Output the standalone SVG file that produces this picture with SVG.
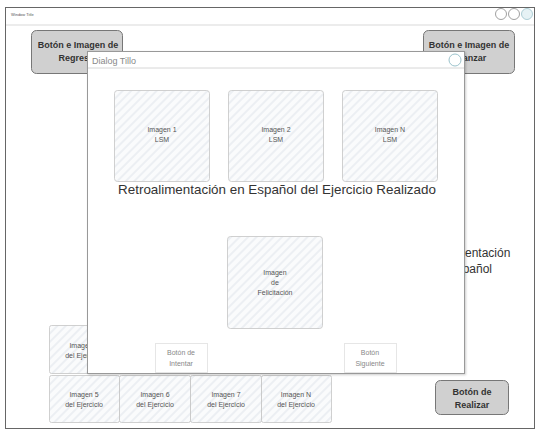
<svg xmlns="http://www.w3.org/2000/svg" width="537" height="431" viewBox="0 0 537 431">
<defs>
<pattern id="hatch" patternUnits="userSpaceOnUse" width="6" height="6" patternTransform="rotate(45)">
<rect width="6" height="6" fill="#fafbfc"/>
<rect width="2" height="6" fill="#eceff3"/>
</pattern>
<filter id="shadow" x="-5%" y="-5%" width="110%" height="110%">
<feDropShadow dx="1" dy="1" stdDeviation="1" flood-color="#000" flood-opacity="0.2"/>
</filter>
</defs>
<style>
.frame{fill:#fff;stroke:#666;stroke-width:1}
.btn{fill:#d0d0d0;stroke:#777;stroke-width:1}
.btnt{font-family:"Liberation Sans",Arial,sans-serif;font-weight:bold;font-size:9px;fill:#333;text-anchor:middle}
.img{fill:url(#hatch);stroke:#c4c4c4;stroke-width:0.8}
.imgt{font-family:"Liberation Sans",Arial,sans-serif;font-size:7px;fill:#555;text-anchor:middle}
.big{font-family:"Liberation Sans",Arial,sans-serif;font-size:13.4px;fill:#333;text-anchor:middle}
.dbtn{fill:#fff;stroke:#e6e6e6;stroke-width:1}
.dbtnt{font-family:"Liberation Sans",Arial,sans-serif;font-size:7px;fill:#888;text-anchor:middle}
</style>
<rect width="537" height="431" fill="#fff"/>
<g id="window">
<rect class="frame" x="5.5" y="7.5" width="529" height="421"/>
<line x1="6" y1="25" x2="534" y2="25" stroke="#e6e6e6" stroke-width="1.5"/>
<text x="11" y="16" font-family="Liberation Sans,Arial,sans-serif" font-size="4px" fill="#555">Window Title</text>
<circle cx="501" cy="14" r="5.5" fill="#fff" stroke="#888" stroke-width="0.8"/>
<circle cx="514" cy="14" r="5.5" fill="#fff" stroke="#888" stroke-width="0.8"/>
<circle cx="527" cy="14" r="5.5" fill="#e6f2f5" stroke="#9cc3cc" stroke-width="0.8"/>
</g>
<g id="btn-regresar">
<rect class="btn" x="31.5" y="30.5" width="91" height="43" rx="5"/>
<text class="btnt" x="78" y="48">Botón e Imagen de</text>
<text class="btnt" x="78" y="61">Regresar</text>
</g>
<g id="btn-avanzar">
<rect class="btn" x="423.5" y="30.5" width="91" height="43" rx="5"/>
<text class="btnt" x="469" y="48">Botón e Imagen de</text>
<text class="btnt" x="469" y="61">Avanzar</text>
</g>
<g id="retro-right">
<text class="big" x="462" y="257" font-size="12px" style="font-size:12px">Retroalimentación</text>
<text class="big" x="462" y="273" style="font-size:12px">en Español</text>
</g>
<g id="img4">
<rect class="img" x="49.5" y="325.5" width="70" height="48" rx="2"/>
<text class="imgt" x="84" y="348">Imagen 4</text>
<text class="imgt" x="84" y="358">del Ejercicio</text>
</g>
<g id="img5">
<rect class="img" x="49.5" y="375.5" width="70" height="47" rx="2"/>
<text class="imgt" x="84" y="397">Imagen 5</text>
<text class="imgt" x="84" y="407">del Ejercicio</text>
</g>
<g id="img6">
<rect class="img" x="119.5" y="375.5" width="71" height="47" rx="2"/>
<text class="imgt" x="155" y="397">Imagen 6</text>
<text class="imgt" x="155" y="407">del Ejercicio</text>
</g>
<g id="img7">
<rect class="img" x="190.5" y="375.5" width="71" height="47" rx="2"/>
<text class="imgt" x="226" y="397">Imagen 7</text>
<text class="imgt" x="226" y="407">del Ejercicio</text>
</g>
<g id="imgN">
<rect class="img" x="261.5" y="375.5" width="70" height="47" rx="2"/>
<text class="imgt" x="296" y="397">Imagen N</text>
<text class="imgt" x="296" y="407">del Ejercicio</text>
</g>
<g id="btn-realizar">
<rect class="btn" x="435.5" y="380.5" width="73" height="34" rx="5"/>
<text class="btnt" x="472" y="395">Botón de</text>
<text class="btnt" x="472" y="408">Realizar</text>
</g>
<g id="dialog">
<rect x="87.5" y="51.5" width="377" height="322" fill="#fff" stroke="#999" stroke-width="1" filter="url(#shadow)"/>
<line x1="88" y1="68" x2="464" y2="68" stroke="#d6d6d6" stroke-width="1"/>
<text x="92" y="64" font-family="Liberation Sans,Arial,sans-serif" font-size="9px" fill="#888">Dialog Tillo</text>
<circle cx="455" cy="60" r="6" fill="#fff" stroke="#9cc3cc" stroke-width="1"/>
</g>
<g id="lsm1">
<rect class="img" x="114.5" y="90.5" width="95" height="91" rx="3"/>
<text class="imgt" x="162" y="132">Imagen 1</text>
<text class="imgt" x="162" y="142">LSM</text>
</g>
<g id="lsm2">
<rect class="img" x="228.5" y="90.5" width="95" height="91" rx="3"/>
<text class="imgt" x="276" y="132">Imagen 2</text>
<text class="imgt" x="276" y="142">LSM</text>
</g>
<g id="lsmN">
<rect class="img" x="342.5" y="90.5" width="95" height="91" rx="3"/>
<text class="imgt" x="390" y="132">Imagen N</text>
<text class="imgt" x="390" y="142">LSM</text>
</g>
<g id="retro">
<text class="big" x="277" y="194">Retroalimentación en Español del Ejercicio Realizado</text>
</g>
<g id="felicitacion">
<rect class="img" x="227.5" y="236.5" width="95" height="92" rx="3"/>
<text class="imgt" x="275" y="275">Imagen</text>
<text class="imgt" x="275" y="285">de</text>
<text class="imgt" x="275" y="295">Felicitación</text>
</g>
<g id="btn-intentar">
<rect class="dbtn" x="155.5" y="343.5" width="52" height="29"/>
<text class="dbtnt" x="181" y="355">Botón de</text>
<text class="dbtnt" x="181" y="366">Intentar</text>
</g>
<g id="btn-siguiente">
<rect class="dbtn" x="344.5" y="343.5" width="52" height="29"/>
<text class="dbtnt" x="370" y="355">Botón</text>
<text class="dbtnt" x="370" y="366">Siguiente</text>
</g>
<g id="connectors"/>
</svg>
